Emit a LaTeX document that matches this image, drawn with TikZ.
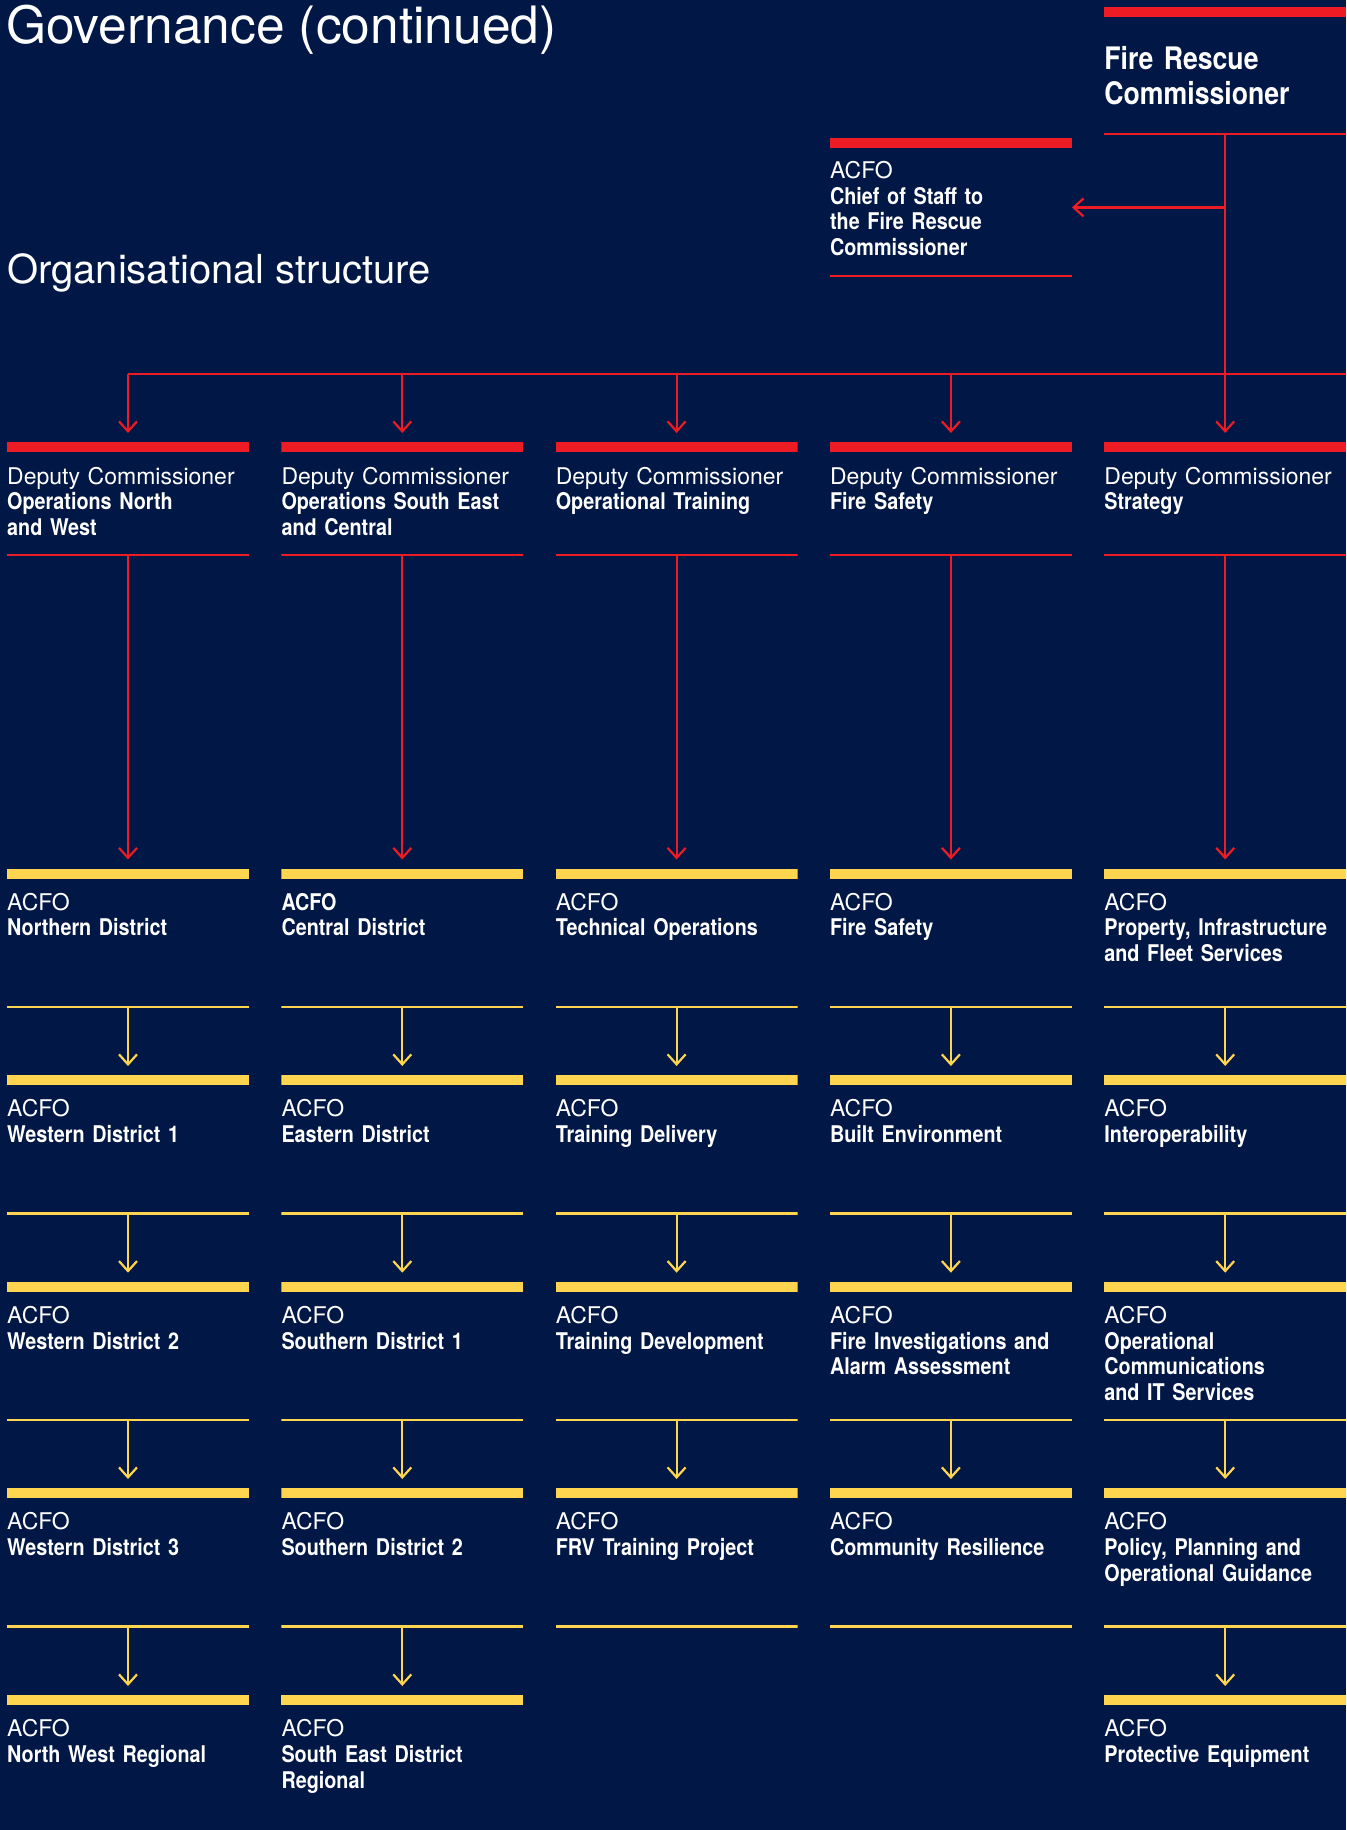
\documentclass[tikz,border=0pt]{standalone}
\usepackage{fontspec}
\setmainfont{TeX Gyre Heros}[BoldFeatures={FakeStretch=0.86}]
\usetikzlibrary{calc,arrows.meta}

\definecolor{frvnavy}{HTML}{011745}
\definecolor{frvred}{HTML}{ED1C24}
\definecolor{frvyellow}{HTML}{FFD54F}

\tikzset{
  unit/.style 2 args={rectangle, inner sep=0pt, outer sep=0pt, fill=frvnavy,
    anchor=north west, minimum width=242pt, minimum height=#2,
    path picture={
      \fill[#1] (path picture bounding box.north west) rectangle ([yshift=-10pt]path picture bounding box.north east);
      \fill[#1] (path picture bounding box.south west) rectangle ([yshift=2.2pt]path picture bounding box.south east);
    }},
  lastunit/.style={rectangle, inner sep=0pt, outer sep=0pt, fill=#1,
    anchor=north west, minimum width=242pt, minimum height=10pt},
  txt/.style={anchor=base west, inner sep=0pt, text width=242pt, align=left,
    text=white, font=\fontsize{23}{25.8}\selectfont},
  rline/.style={frvred, line width=2.2pt},
  rarrow/.style={rline, -{Straight Barb[length=10pt,width=18pt]}, shorten >=9pt},
  yarrow/.style={frvyellow, line width=2.2pt, -{Straight Barb[length=10pt,width=18pt]}, shorten >=9pt}
}

\begin{document}
\begin{tikzpicture}[x=1pt,y=-1pt] % 1 unit = 1px, y downwards
\useasboundingbox (0,0) rectangle (1346,1830);
\fill[frvnavy] (0,0) rectangle (1346,1830);

%HEADINGS
\node[anchor=base west, inner sep=0pt, text=white, font=\fontsize{51.5}{51.5}\selectfont] (title) at (6,44) {Governance (continued)};
\node[anchor=base west, inner sep=0pt, text=white, font=\fontsize{40}{40}\selectfont] (subtitle) at (7,283.5) {Organisational structure};




%LEVEL NO. 0 (from top)

%FIRE RESCUE COMMISSIONER
\node[unit={frvred}{127.8pt}] (frc) at (1104.2,7.3) {};
\node[txt, font=\fontsize{31}{35}\selectfont] (frct) at ($(frc.north west)+(0,62)$) {\textbf{Fire Rescue}\\\textbf{Commissioner}};

%CHIEF OF STAFF
\node[unit={frvred}{139.4pt}] (chief) at (829.9,137.7) {};
\node[txt] (chieft) at ($(chief.north west)+(0,40.5)$) {ACFO\\\textbf{Chief of Staff to}\\\textbf{the Fire Rescue}\\\textbf{Commissioner}};




%LEVEL NO. 1 (from top)

%ELEMENT IN COLUMN NO. 1 (from left)
\node[unit={frvred}{114.1pt}] (dc1) at (7,442) {};
\node[txt] (dc1t) at ($(dc1.north west)+(0,42)$) {Deputy Commissioner\\\textbf{Operations North}\\\textbf{and West}};

%ELEMENT IN COLUMN NO. 2 (from left)
\node[unit={frvred}{114.1pt}] (dc2) at (281.3,442) {};
\node[txt] (dc2t) at ($(dc2.north west)+(0,42)$) {Deputy Commissioner\\\textbf{Operations South East}\\\textbf{and Central}};

%ELEMENT IN COLUMN NO. 3 (from left)
\node[unit={frvred}{114.1pt}] (dc3) at (555.6,442) {};
\node[txt] (dc3t) at ($(dc3.north west)+(0,42)$) {Deputy Commissioner\\\textbf{Operational Training}};

%ELEMENT IN COLUMN NO. 4 (from left)
\node[unit={frvred}{114.1pt}] (dc4) at (829.9,442) {};
\node[txt] (dc4t) at ($(dc4.north west)+(0,42)$) {Deputy Commissioner\\\textbf{Fire Safety}};

%ELEMENT IN COLUMN NO. 5 (from left)
\node[unit={frvred}{114.1pt}] (dc5) at (1104.2,442) {};
\node[txt] (dc5t) at ($(dc5.north west)+(0,42)$) {Deputy Commissioner\\\textbf{Strategy}};




%LEVEL NO. 2 (from top)

%ELEMENT IN COLUMN NO. 1 (from left)
\node[unit={frvyellow}{139.6pt}] (a11) at (7,868.5) {};
\node[txt] (a11t) at ($(a11.north west)+(0,41.5)$) {ACFO\\\textbf{Northern District}};

%ELEMENT IN COLUMN NO. 2 (from left)
\node[unit={frvyellow}{139.6pt}] (a21) at (281.3,868.5) {};
\node[txt] (a21t) at ($(a21.north west)+(0,41.5)$) {\textbf{ACFO}\\\textbf{Central District}};

%ELEMENT IN COLUMN NO. 3 (from left)
\node[unit={frvyellow}{139.6pt}] (a31) at (555.6,868.5) {};
\node[txt] (a31t) at ($(a31.north west)+(0,41.5)$) {ACFO\\\textbf{Technical Operations}};

%ELEMENT IN COLUMN NO. 4 (from left)
\node[unit={frvyellow}{139.6pt}] (a41) at (829.9,868.5) {};
\node[txt] (a41t) at ($(a41.north west)+(0,41.5)$) {ACFO\\\textbf{Fire Safety}};

%ELEMENT IN COLUMN NO. 5 (from left)
\node[unit={frvyellow}{139.6pt}] (a51) at (1104.2,868.5) {};
\node[txt] (a51t) at ($(a51.north west)+(0,41.5)$) {ACFO\\\textbf{Property, Infrastructure}\\\textbf{and Fleet Services}};




%LEVEL NO. 3 (from top)

%ELEMENT IN COLUMN NO. 1 (from left)
\node[unit={frvyellow}{139.6pt}] (a12) at (7,1075) {};
\node[txt] (a12t) at ($(a12.north west)+(0,41.5)$) {ACFO\\\textbf{Western District 1}};

%ELEMENT IN COLUMN NO. 2 (from left)
\node[unit={frvyellow}{139.6pt}] (a22) at (281.3,1075) {};
\node[txt] (a22t) at ($(a22.north west)+(0,41.5)$) {ACFO\\\textbf{Eastern District}};

%ELEMENT IN COLUMN NO. 3 (from left)
\node[unit={frvyellow}{139.6pt}] (a32) at (555.6,1075) {};
\node[txt] (a32t) at ($(a32.north west)+(0,41.5)$) {ACFO\\\textbf{Training Delivery}};

%ELEMENT IN COLUMN NO. 4 (from left)
\node[unit={frvyellow}{139.6pt}] (a42) at (829.9,1075) {};
\node[txt] (a42t) at ($(a42.north west)+(0,41.5)$) {ACFO\\\textbf{Built Environment}};

%ELEMENT IN COLUMN NO. 5 (from left)
\node[unit={frvyellow}{139.6pt}] (a52) at (1104.2,1075) {};
\node[txt] (a52t) at ($(a52.north west)+(0,41.5)$) {ACFO\\\textbf{Interoperability}};




%LEVEL NO. 4 (from top)

%ELEMENT IN COLUMN NO. 1 (from left)
\node[unit={frvyellow}{139.6pt}] (a13) at (7,1281.7) {};
\node[txt] (a13t) at ($(a13.north west)+(0,41.5)$) {ACFO\\\textbf{Western District 2}};

%ELEMENT IN COLUMN NO. 2 (from left)
\node[unit={frvyellow}{139.6pt}] (a23) at (281.3,1281.7) {};
\node[txt] (a23t) at ($(a23.north west)+(0,41.5)$) {ACFO\\\textbf{Southern District 1}};

%ELEMENT IN COLUMN NO. 3 (from left)
\node[unit={frvyellow}{139.6pt}] (a33) at (555.6,1281.7) {};
\node[txt] (a33t) at ($(a33.north west)+(0,41.5)$) {ACFO\\\textbf{Training Development}};

%ELEMENT IN COLUMN NO. 4 (from left)
\node[unit={frvyellow}{139.6pt}] (a43) at (829.9,1281.7) {};
\node[txt] (a43t) at ($(a43.north west)+(0,41.5)$) {ACFO\\\textbf{Fire Investigations and}\\\textbf{Alarm Assessment}};

%ELEMENT IN COLUMN NO. 5 (from left)
\node[unit={frvyellow}{139.6pt}] (a53) at (1104.2,1281.7) {};
\node[txt] (a53t) at ($(a53.north west)+(0,41.5)$) {ACFO\\\textbf{Operational}\\\textbf{Communications}\\\textbf{and IT Services}};




%LEVEL NO. 5 (from top)

%ELEMENT IN COLUMN NO. 1 (from left)
\node[unit={frvyellow}{139.6pt}] (a14) at (7,1488) {};
\node[txt] (a14t) at ($(a14.north west)+(0,41.5)$) {ACFO\\\textbf{Western District 3}};

%ELEMENT IN COLUMN NO. 2 (from left)
\node[unit={frvyellow}{139.6pt}] (a24) at (281.3,1488) {};
\node[txt] (a24t) at ($(a24.north west)+(0,41.5)$) {ACFO\\\textbf{Southern District 2}};

%ELEMENT IN COLUMN NO. 3 (from left)
\node[unit={frvyellow}{139.6pt}] (a34) at (555.6,1488) {};
\node[txt] (a34t) at ($(a34.north west)+(0,41.5)$) {ACFO\\\textbf{FRV Training Project}};

%ELEMENT IN COLUMN NO. 4 (from left)
\node[unit={frvyellow}{139.6pt}] (a44) at (829.9,1488) {};
\node[txt] (a44t) at ($(a44.north west)+(0,41.5)$) {ACFO\\\textbf{Community Resilience}};

%ELEMENT IN COLUMN NO. 5 (from left)
\node[unit={frvyellow}{139.6pt}] (a54) at (1104.2,1488) {};
\node[txt] (a54t) at ($(a54.north west)+(0,41.5)$) {ACFO\\\textbf{Policy, Planning and}\\\textbf{Operational Guidance}};




%LEVEL NO. 6 (from top)

%ELEMENT IN COLUMN NO. 1 (from left)
\node[lastunit=frvyellow] (a15) at (7,1695) {};
\node[txt] (a15t) at ($(a15.north west)+(0,41.5)$) {ACFO\\\textbf{North West Regional}};

%ELEMENT IN COLUMN NO. 2 (from left)
\node[lastunit=frvyellow] (a25) at (281.3,1695) {};
\node[txt] (a25t) at ($(a25.north west)+(0,41.5)$) {ACFO\\\textbf{South East District}\\\textbf{Regional}};

%ELEMENT IN COLUMN NO. 5 (from left)
\node[lastunit=frvyellow] (a55) at (1104.2,1695) {};
\node[txt] (a55t) at ($(a55.north west)+(0,41.5)$) {ACFO\\\textbf{Protective Equipment}};




%RED CONNECTORS
\coordinate (busend) at (1346,374);
\draw[rarrow] (frc.south) -- (dc5.north);
\draw[rarrow, shorten >=0pt] (chief.east -| frc.south) -- (chief.east);
\draw[rline] (dc1.north |- busend) -- (busend);
\draw[rarrow] (dc1.north |- busend) -- (dc1.north);
\draw[rarrow] (dc2.north |- busend) -- (dc2.north);
\draw[rarrow] (dc3.north |- busend) -- (dc3.north);
\draw[rarrow] (dc4.north |- busend) -- (dc4.north);
\draw[rarrow] (dc1.south) -- (a11.north);
\draw[rarrow] (dc2.south) -- (a21.north);
\draw[rarrow] (dc3.south) -- (a31.north);
\draw[rarrow] (dc4.south) -- (a41.north);
\draw[rarrow] (dc5.south) -- (a51.north);

%YELLOW CONNECTORS
\draw[yarrow] (a11.south) -- (a12.north);
\draw[yarrow] (a12.south) -- (a13.north);
\draw[yarrow] (a13.south) -- (a14.north);
\draw[yarrow] (a14.south) -- (a15.north);

\draw[yarrow] (a21.south) -- (a22.north);
\draw[yarrow] (a22.south) -- (a23.north);
\draw[yarrow] (a23.south) -- (a24.north);
\draw[yarrow] (a24.south) -- (a25.north);

\draw[yarrow] (a31.south) -- (a32.north);
\draw[yarrow] (a32.south) -- (a33.north);
\draw[yarrow] (a33.south) -- (a34.north);

\draw[yarrow] (a41.south) -- (a42.north);
\draw[yarrow] (a42.south) -- (a43.north);
\draw[yarrow] (a43.south) -- (a44.north);

\draw[yarrow] (a51.south) -- (a52.north);
\draw[yarrow] (a52.south) -- (a53.north);
\draw[yarrow] (a53.south) -- (a54.north);
\draw[yarrow] (a54.south) -- (a55.north);

\end{tikzpicture}
\end{document}
